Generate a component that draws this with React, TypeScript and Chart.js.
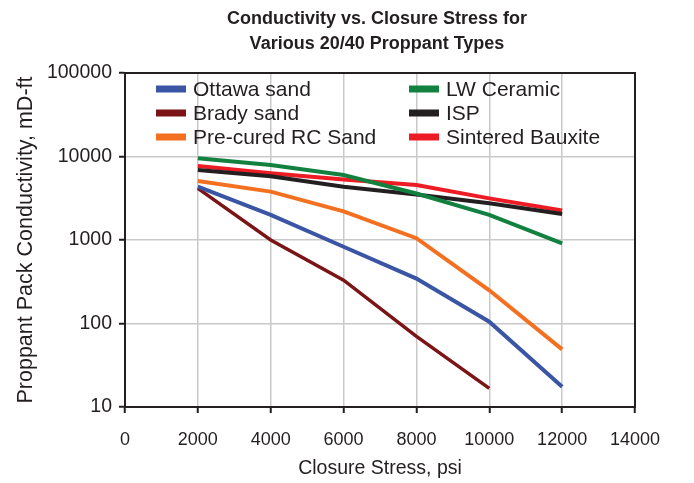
import React, { useEffect, useRef } from "react";
import { Chart, registerables } from "chart.js";

Chart.register(...registerables);

const stress = [2000, 4000, 6000, 8000, 10000, 12000];
const ottawa = [4350, 2000, 830, 345, 105, 17.5];
const brady = [4150, 1000, 330, 70, 16.7];
const precured = [5100, 3800, 2200, 1050, 250, 49];
const lwCeramic = [9500, 7900, 6000, 3600, 2000, 910];
const isp = [6900, 5800, 4350, 3500, 2750, 2050];
const bauxite = [7700, 6300, 5300, 4550, 3150, 2250];
const yTicks = [10, 100, 1000, 10000, 100000];
const titleLines = ["Conductivity vs. Closure Stress for", "Various 20/40 Proppant Types"];

const FONT = "'Liberation Sans', Arial, Helvetica, sans-serif";
const INK = "#231F20";

const series = [
  { label: "Ottawa sand", data: ottawa, color: "#3A55A4", width: 4 },
  { label: "Brady sand", data: brady, color: "#7A1417", width: 3.5 },
  { label: "Pre-cured RC Sand", data: precured, color: "#F37021", width: 4 },
  { label: "LW Ceramic", data: lwCeramic, color: "#12813F", width: 4 },
  { label: "ISP", data: isp, color: "#231F20", width: 4 },
  { label: "Sintered Bauxite", data: bauxite, color: "#ED1C24", width: 4 },
];

const decorPlugin = {
  id: "decor",
  afterDraw(chart: any) {
    const { ctx, chartArea } = chart;
    const { left, right, top, bottom } = chartArea;
    ctx.save();
    // frame
    ctx.strokeStyle = INK;
    ctx.lineWidth = 2;
    ctx.strokeRect(left, top, right - left, bottom - top);
    // title
    ctx.fillStyle = INK;
    ctx.font = `bold 18px ${FONT}`;
    ctx.textAlign = "center";
    ctx.textBaseline = "middle";
    const cx = (left + right) / 2 - 3;
    ctx.fillText(titleLines[0], cx, 19);
    ctx.fillText(titleLines[1], cx, 44);
    // legend
    ctx.font = `21px ${FONT}`;
    ctx.textAlign = "left";
    const cols = [left + 31, left + 284];
    const rows = [top + 16, top + 40, top + 64];
    chart.data.datasets.forEach((ds: any, i: number) => {
      const col = Math.floor(i / 3);
      const row = i % 3;
      const x = cols[col];
      const y = rows[row];
      ctx.fillStyle = ds.borderColor;
      ctx.fillRect(x, y - 3.5, 30, 7);
      ctx.fillStyle = INK;
      ctx.fillText(ds.label, x + 37, y + 1);
    });
    ctx.restore();
  },
};

export default function App() {
  const ref = useRef<HTMLCanvasElement>(null);
  useEffect(() => {
    if (!ref.current) return;
    const chart = new Chart(ref.current, {
      type: "line",
      data: {
        labels: stress,
        datasets: series.map((s) => ({
          label: s.label,
          data: s.data.map((v, i) => ({ x: stress[i], y: v })),
          borderColor: s.color,
          backgroundColor: s.color,
          borderWidth: s.width,
          pointRadius: 0,
          tension: 0,
          fill: false,
        })),
      },
      options: {
        animation: false,
        responsive: false,
        maintainAspectRatio: false,
        layout: { padding: { top: 73, left: 0, right: 59, bottom: 0 } },
        plugins: {
          legend: { display: false },
          title: { display: false },
          tooltip: { enabled: false },
        },
        scales: {
          x: {
            type: "linear",
            min: 0,
            max: 14000,
            afterFit: (s: any) => {
              s.height = 76;
            },
            ticks: {
              stepSize: 2000,
              callback: (v: any) => String(v),
              color: INK,
              font: { family: FONT, size: 18 },
              padding: 16,
              maxRotation: 0,
            },
            grid: {
              color: "#c9c9c9",
              lineWidth: 1.5,
              tickColor: INK,
              tickLength: 6,
              tickWidth: 2,
            },
            border: { color: INK, width: 2 },
            title: {
              display: true,
              text: "Closure Stress, psi",
              color: INK,
              font: { family: FONT, size: 19.5 },
              padding: { top: 0, bottom: 3 },
            },
          },
          y: {
            type: "logarithmic",
            min: 10,
            max: 100000,
            afterFit: (s: any) => {
              s.width = 125;
            },
            afterBuildTicks: (s: any) => {
              s.ticks = yTicks.map((v) => ({ value: v }));
            },
            ticks: {
              callback: (v: any) => String(v),
              color: INK,
              font: { family: FONT, size: 19.5 },
              padding: 7,
              autoSkip: false,
            },
            grid: {
              color: "#c9c9c9",
              lineWidth: 1.5,
              tickColor: INK,
              tickLength: 6,
              tickWidth: 2,
            },
            border: { color: INK, width: 2 },
            title: {
              display: true,
              text: "Proppant Pack Conductivity, mD-ft",
              color: INK,
              font: { family: FONT, size: 21.5 },
              padding: { top: 13, bottom: 0 },
            },
          },
        },
      },
      plugins: [decorPlugin],
    });
    return () => chart.destroy();
  }, []);
  return (
    <div style={{ position: "fixed", left: 0, top: 0, width: 694, height: 483, background: "#fff" }}>
      <canvas ref={ref} width={694} height={483} style={{ display: "block", width: 694, height: 483 }} />
    </div>
  );
}
